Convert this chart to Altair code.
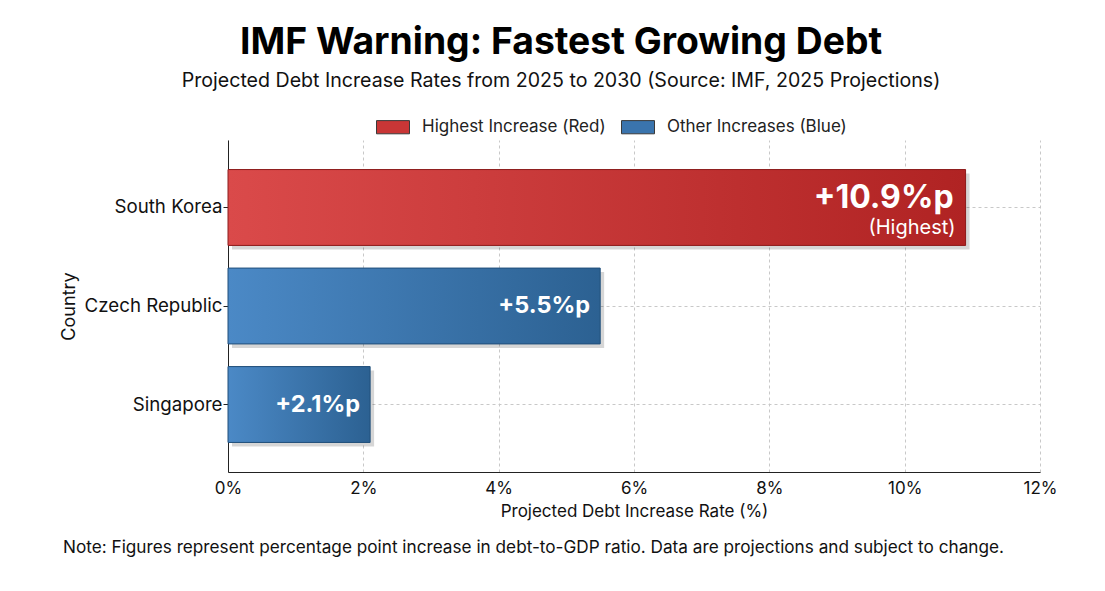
import altair as alt
import pandas as pd

countries = ["South Korea", "Czech Republic", "Singapore"]
increases = [10.9, 5.5, 2.1]
value_labels = ["+10.9%p", "+5.5%p", "+2.1%p"]
sub_labels = ["(Highest)", "", ""]
groups = ["Highest Increase (Red)", "Other Increases (Blue)", "Other Increases (Blue)"]
group_domain = ["Highest Increase (Red)", "Other Increases (Blue)"]
x_ticks = [0, 2, 4, 6, 8, 10, 12]
note_lines = ["Note: Figures represent percentage point increase in debt-to-GDP ratio. Data are projections and subject to change."]

df = pd.DataFrame({
    "Country": countries,
    "Rate": increases,
    "Label": value_labels,
    "Sub": sub_labels,
    "Group": groups,
})
note_df = pd.DataFrame({"Note": note_lines})

FONT = "Inter"

red_grad = alt.LinearGradient(
    gradient="linear", x1=0, x2=1, y1=0, y2=0,
    stops=[alt.GradientStop(color="#da4a4a", offset=0), alt.GradientStop(color="#b02323", offset=1)],
)
blue_grad = alt.LinearGradient(
    gradient="linear", x1=0, x2=1, y1=0, y2=0,
    stops=[alt.GradientStop(color="#4b89c6", offset=0), alt.GradientStop(color="#2c6192", offset=1)],
)

x_enc = alt.X(
    "Rate:Q",
    scale=alt.Scale(domain=[0, 12], nice=False),
    axis=alt.Axis(
        values=x_ticks, labelExpr="datum.value + '%'",
        title="Projected Debt Increase Rate (%)",
        grid=True, gridDash=[3, 3], gridColor="#c8c8c8",
        domainColor="#222222", ticks=False, labelFlush=False,
        labelFontSize=17, titleFontSize=17, labelPadding=8, titlePadding=7,
        labelColor="#111111", titleColor="#111111", titleFontWeight="normal",
        labelFont=FONT, titleFont=FONT,
    ),
)
y_enc = alt.Y(
    "Country:N", sort=countries,
    scale=alt.Scale(paddingInner=0.23, paddingOuter=0.3),
    axis=alt.Axis(
        title="Country", grid=True, gridDash=[3, 3], gridColor="#c8c8c8", bandPosition=0.5,
        domainColor="#222222", tickColor="#222222", tickSize=5,
        labelFontSize=18.7, titleFontSize=18, labelPadding=1, titlePadding=6,
        labelColor="#111111", titleColor="#111111", titleFontWeight="normal",
        labelFont=FONT, titleFont=FONT,
    ),
)

base = alt.Chart(df)

shadow = base.mark_bar(color="#000000", opacity=0.16, xOffset=4, yOffset=4).encode(x=x_enc, y=y_enc)

legend_bars = base.mark_bar().encode(
    x=x_enc, y=y_enc,
    color=alt.Color(
        "Group:N",
        scale=alt.Scale(domain=group_domain, range=["#c93636", "#3a74ad"]),
        legend=alt.Legend(
            title=None, orient="none", legendX=148, legendY=-30, direction="horizontal",
            symbolType="M-1,-0.4H1V0.4H-1Z", symbolSize=1089, symbolStrokeWidth=1,
            symbolStrokeColor="#3a3a3a", symbolOpacity=1,
            labelFontSize=17, labelFont=FONT, labelColor="#222222", labelLimit=0,
            labelOffset=12, columnPadding=13,
        ),
    ),
)

red_bar = base.transform_filter(alt.datum.Group == group_domain[0]).mark_bar(
    color=red_grad, stroke="#8c1c1c", strokeWidth=1
).encode(x=x_enc, y=y_enc)
blue_bar = base.transform_filter(alt.datum.Group == group_domain[1]).mark_bar(
    color=blue_grad, stroke="#214f7a", strokeWidth=1
).encode(x=x_enc, y=y_enc)

big_label = base.transform_filter(alt.datum.Group == group_domain[0]).mark_text(
    align="right", baseline="middle", dx=-12, dy=-9, fontSize=32, fontWeight="bold", color="white", font=FONT
).encode(x=x_enc, y=y_enc, text="Label:N")
sub_label = base.transform_filter(alt.datum.Group == group_domain[0]).mark_text(
    align="right", baseline="middle", dx=-10, dy=21, fontSize=20, color="white", font=FONT
).encode(x=x_enc, y=y_enc, text="Sub:N")
other_labels = base.transform_filter(alt.datum.Group == group_domain[1]).mark_text(
    align="right", baseline="middle", dx=-10, fontSize=23.5, fontWeight="bold", color="white", font=FONT
).encode(x=x_enc, y=y_enc, text="Label:N")

note = alt.Chart(note_df).mark_text(
    align="left", baseline="middle", fontSize=17.2, color="#111111", font=FONT
).encode(x=alt.value(-165), y=alt.value(408), text="Note:N")

chart = alt.layer(
    shadow, legend_bars, red_bar, blue_bar, big_label, sub_label, other_labels, note
).properties(
    width=812, height=332,
    padding={"left": 220, "top": 132, "right": 57, "bottom": 111},
    autosize=alt.AutoSizeParams(type="none"),
    title=alt.TitleParams(
        text="IMF Warning: Fastest Growing Debt",
        subtitle="Projected Debt Increase Rates from 2025 to 2030 (Source: IMF, 2025 Projections)",
        anchor="middle", dx=-73, fontSize=37.3, fontWeight="bold", font=FONT, color="#000000",
        subtitleFontSize=19.6, subtitleFont=FONT, subtitleColor="#111111", subtitlePadding=10,
        offset=18,
    ),
).configure_view(stroke=None)

chart.save("out.html", embed_options={"renderer": "svg", "actions": False})
